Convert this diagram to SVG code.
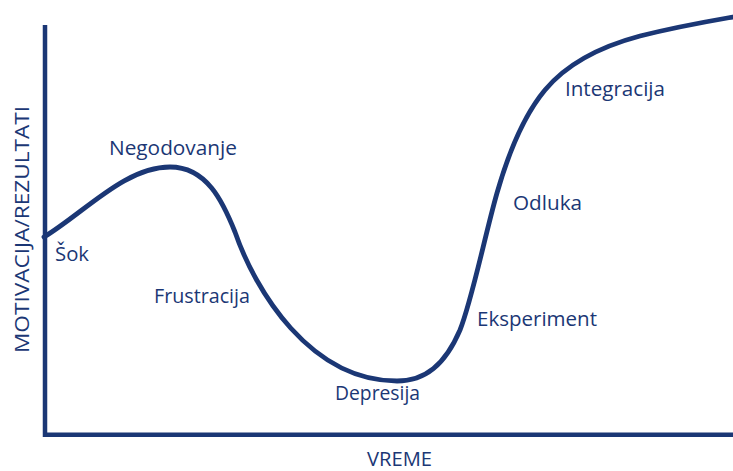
<svg xmlns="http://www.w3.org/2000/svg" width="733" height="471" viewBox="0 0 733 471">
<style>
.ax{fill:none;stroke:#1b3775;stroke-width:4.5;stroke-linecap:butt}
.cv{fill:none;stroke:#1b3775;stroke-width:4.8;stroke-linecap:round}
.lb{font-family:"Open Sans","Lato",sans-serif;font-size:19.5px;fill:#1b3775}
.at{font-family:"Open Sans","Lato",sans-serif;font-size:20px;fill:#1b3775}
</style>
<rect width="733" height="471" fill="#fff"/>
<g id="axes">
<path class="ax" d="M45,25 V434.7 H733"/>
<text class="at" x="367" y="466" textLength="65" lengthAdjust="spacingAndGlyphs">VREME</text>
<text class="at" transform="translate(29,353) rotate(-90)" x="0" y="0" textLength="247" lengthAdjust="spacingAndGlyphs">MOTIVACIJA/REZULTATI</text>
</g>
<g id="connectors">
<path class="cv" d="M44,237 C85,212 125,167 170,167 C207,167 223,202 235,232 C255,290 310,381 397,381 C425,381 445,365 460,330 C472,300 485,235 497,193 C505,165 520,120 545,90 C565,66 595,48 640,36 C680,26 710,21 733,17"/>
</g>
<g id="sok"><text class="lb" x="55" y="261" textLength="34" lengthAdjust="spacingAndGlyphs">Šok</text></g>
<g id="negodovanje"><text class="lb" x="109" y="155" textLength="128" lengthAdjust="spacingAndGlyphs">Negodovanje</text></g>
<g id="frustracija"><text class="lb" x="154" y="303" textLength="96" lengthAdjust="spacingAndGlyphs">Frustracija</text></g>
<g id="depresija"><text class="lb" x="335" y="400" textLength="85" lengthAdjust="spacingAndGlyphs">Depresija</text></g>
<g id="eksperiment"><text class="lb" x="477" y="326" textLength="120" lengthAdjust="spacingAndGlyphs">Eksperiment</text></g>
<g id="odluka"><text class="lb" x="513" y="210" textLength="69" lengthAdjust="spacingAndGlyphs">Odluka</text></g>
<g id="integracija"><text class="lb" x="565" y="96" textLength="100" lengthAdjust="spacingAndGlyphs">Integracija</text></g>
</svg>
